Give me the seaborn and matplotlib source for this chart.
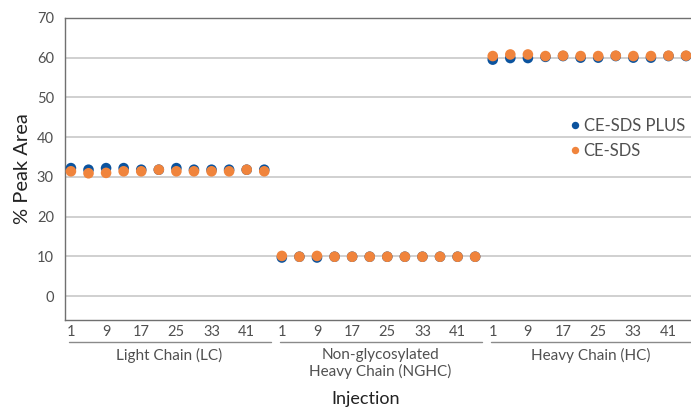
import numpy as np
import pandas as pd
import matplotlib
matplotlib.use("Agg")
import matplotlib.pyplot as plt
import matplotlib.transforms as mtransforms
import seaborn as sns

# injection numbers shown per group (every 4th injection)
injections = [1, 5, 9, 13, 17, 21, 25, 29, 33, 37, 41, 45]
tick_injections = [1, 9, 17, 25, 33, 41]
groups = ["Light Chain (LC)", "Non-glycosylated\nHeavy Chain (NGHC)", "Heavy Chain (HC)"]

# % peak area, CE-SDS PLUS
plus_lc = [32.2, 31.8, 32.2, 32.2, 31.8, 31.8, 32.2, 31.8, 31.8, 31.8, 31.8, 31.8]
plus_nghc = [9.7, 9.9, 9.7, 9.9, 9.9, 9.9, 9.9, 9.9, 9.9, 9.9, 9.9, 9.9]
plus_hc = [59.5, 59.9, 59.9, 60.2, 60.4, 60.0, 60.0, 60.4, 60.0, 60.0, 60.4, 60.4]

# % peak area, CE-SDS
sds_lc = [31.4, 30.9, 31.0, 31.4, 31.4, 31.8, 31.4, 31.4, 31.4, 31.4, 31.8, 31.4]
sds_nghc = [10.1, 9.9, 10.1, 9.9, 9.9, 9.9, 9.9, 9.9, 9.9, 9.9, 9.9, 9.9]
sds_hc = [60.4, 60.8, 60.8, 60.4, 60.5, 60.4, 60.4, 60.5, 60.4, 60.4, 60.5, 60.5]

methods = ["CE-SDS PLUS", "CE-SDS"]
colors = ["#0b539e", "#f0843c"]
text_color = "#505050"

# build long table: position along x runs over all three groups
n = len(injections)
rows = []
for method, series in [("CE-SDS PLUS", [plus_lc, plus_nghc, plus_hc]),
                       ("CE-SDS", [sds_lc, sds_nghc, sds_hc])]:
    for g, vals in enumerate(series):
        for i, v in enumerate(vals):
            rows.append({"pos": g * n + i, "group": groups[g],
                         "injection": injections[i], "area": v, "method": method})
df = pd.DataFrame(rows)

sns.set_style("white")
plt.rcParams["font.family"] = ["Lato", "DejaVu Sans"]

fig = plt.figure(figsize=(6.91, 4.07), dpi=100)
ax = fig.add_axes([0.094, 0.214, 0.906, 0.742])

sns.scatterplot(data=df, x="pos", y="area", hue="method", hue_order=methods,
                palette=colors, s=58, linewidth=0, ax=ax, zorder=3)

ax.set_ylim(-6, 70)
ax.set_xlim(-0.34, 35.28)
ax.set_yticks(range(0, 71, 10))
ax.grid(axis="y", color="#c8c8c8", linewidth=1.2)
ax.grid(axis="x", visible=False)

ticks = []
labels = []
for g in range(3):
    for t in tick_injections:
        ticks.append(g * n + injections.index(t))
        labels.append(str(t))
ax.set_xticks(ticks)
ax.set_xticklabels(labels)
ax.tick_params(axis="both", length=0, labelsize=10.5, labelcolor=text_color)
ax.tick_params(axis="x", pad=4)
ax.tick_params(axis="y", pad=8)

for side in ["left", "bottom", "top"]:
    ax.spines[side].set_color("#707070")
    ax.spines[side].set_linewidth(1.0)
ax.spines["right"].set_visible(False)

ax.set_xlabel("")
ax.set_ylabel("% Peak Area", fontsize=14.5, color="#222222", labelpad=4)

# group brackets under tick labels
trans = mtransforms.blended_transform_factory(ax.transData, ax.transAxes)
for g, name in enumerate(groups):
    x0 = g * n - 0.1
    x1 = g * n + 11.4 if g < 2 else 35.4
    ax.plot([x0, x1], [-0.073, -0.073], transform=trans, color="#8a8a8a",
            linewidth=1.0, clip_on=False)
    ax.text(g * n + 5.6, -0.092, name, transform=trans, ha="center", va="top",
            fontsize=11, color=text_color, linespacing=1.2)

fig.text(0.529, 0.0, "Injection", ha="center", va="bottom",
         fontsize=13, color="#222222")

ax.legend(loc="upper left", bbox_to_anchor=(0.79, 0.69), frameon=False,
          fontsize=12, handletextpad=0.05, handlelength=1.0, labelspacing=0.5,
          markerscale=0.7, labelcolor=text_color, borderaxespad=0)

fig.savefig("out.png", dpi=100)
